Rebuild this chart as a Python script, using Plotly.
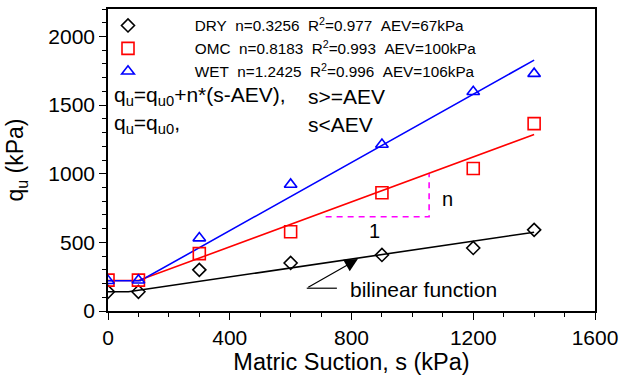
import plotly.graph_objects as go

# ---- data ----
suction = [0, 100, 300, 600, 900, 1200, 1400]
qu_dry = [140, 140, 300, 350, 408, 459, 591]
qu_omc = [225, 225, 418, 577, 861, 1038, 1365]
qu_wet = [220, 224, 531, 922, 1213, 1597, 1729]

series_names = ["DRY", "OMC", "WET"]
n_vals = [0.3256, 0.8183, 1.2425]
r2_vals = [0.977, 0.993, 0.996]
aev_vals = [67, 100, 106]
qu0_vals = [140, 222, 220]
s_end = 1400

x_ticks = [0, 400, 800, 1200, 1600]
y_ticks = [0, 500, 1000, 1500, 2000]

colors = ["black", "red", "blue"]
symbols = ["diamond-open", "square-open", "triangle-up-open"]
msizes = [10, 12, 11]
FONT = "Liberation Sans, Arial, sans-serif"

fig = go.Figure()
obs = [qu_dry, qu_omc, qu_wet]
nbsp = "\u00a0" * 11
for i, name in enumerate(series_names):
    # bilinear fitted function
    ls = [0, aev_vals[i], s_end]
    lq = [qu0_vals[i], qu0_vals[i], qu0_vals[i] + n_vals[i] * (s_end - aev_vals[i])]
    fig.add_trace(go.Scatter(x=ls, y=lq, mode="lines",
                             line=dict(color=colors[i], width=1.6),
                             showlegend=False, hoverinfo="skip"))
for i, name in enumerate(series_names):
    label = (f"{nbsp}{name}\u00a0\u00a0n={n_vals[i]:.4f}\u00a0\u00a0R<sup>2</sup>={r2_vals[i]:.3f}"
             f"\u00a0\u00a0AEV={aev_vals[i]}kPa")
    fig.add_trace(go.Scatter(x=suction, y=obs[i], mode="markers", name=label,
                             marker=dict(symbol=symbols[i], size=msizes[i],
                                         color=colors[i],
                                         line=dict(color=colors[i], width=1.6))))

# slope triangle (magenta dashed)
tri_x = [715, 1055, 1055]
tri_y = [687, 687, 998]
fig.add_trace(go.Scatter(x=tri_x, y=tri_y, mode="lines",
                         line=dict(color="#FF00FF", width=1.6, dash="6px,5px"),
                         showlegend=False, hoverinfo="skip"))

annotations = [
    dict(x=1117, y=818, text="n", showarrow=False, font=dict(size=20, color="black")),
    dict(x=877, y=584, text="1", showarrow=False, font=dict(size=20, color="black")),
    dict(x=790, y=155, text="bilinear function", showarrow=False, xanchor="left",
         font=dict(size=21, color="black")),
    # leader arrow
    dict(x=821, y=379, ax=653, ay=166, axref="x", ayref="y", xref="x", yref="y",
         text="", showarrow=True, arrowhead=2, arrowsize=2.2, arrowwidth=1.2,
         arrowcolor="black"),
    dict(x=12, y=1565, text="q<sub>u</sub>=q<sub>u0</sub>+n*(s-AEV),",
         showarrow=False, xanchor="left", font=dict(size=21, color="black")),
    dict(x=652, y=1565, text="s>=AEV", showarrow=False, xanchor="left",
         font=dict(size=21, color="black")),
    dict(x=12, y=1362, text="q<sub>u</sub>=q<sub>u0</sub>,", showarrow=False,
         xanchor="left", font=dict(size=21, color="black")),
    dict(x=652, y=1362, text="s<AEV", showarrow=False, xanchor="left",
         font=dict(size=21, color="black")),
]
shapes = [dict(type="line", x0=653, y0=166, x1=752, y1=166, xref="x", yref="y",
               line=dict(color="black", width=1.2))]

fig.update_layout(
    width=634, height=378,
    margin=dict(l=108, r=39, t=7, b=67),
    paper_bgcolor="white", plot_bgcolor="white",
    font=dict(family=FONT, color="black"),
    showlegend=True,
    legend=dict(x=0.0, y=1.0, xanchor="left", yanchor="top",
                bgcolor="rgba(0,0,0,0)", font=dict(size=15.3),
                tracegroupgap=0, itemwidth=30),
    annotations=annotations,
    shapes=shapes,
    xaxis=dict(range=[0, 1600], tickvals=x_ticks, ticktext=[str(v) for v in x_ticks],
               showgrid=False, zeroline=False, showline=True, linecolor="black",
               linewidth=1.6, mirror=True, ticks="outside", ticklen=7, tickwidth=1.4,
               tickcolor="black", tickfont=dict(size=21),
               minor=dict(dtick=100, ticks="outside", ticklen=4, tickwidth=1.2,
                          tickcolor="black", showgrid=False),
               title=dict(text="Matric Suction, s (kPa)", font=dict(size=23.5), standoff=2)),
    yaxis=dict(range=[0, 2200], tickvals=y_ticks, ticktext=[str(v) for v in y_ticks],
               showgrid=False, zeroline=False, showline=True, linecolor="black",
               linewidth=1.6, mirror=True, ticks="outside", ticklen=7, tickwidth=1.4,
               tickcolor="black", tickfont=dict(size=21),
               minor=dict(dtick=100, ticks="outside", ticklen=4, tickwidth=1.2,
                          tickcolor="black", showgrid=False),
               title=dict(text="q<sub>u</sub> (kPa)", font=dict(size=23), standoff=18)),
)

fig.write_html("out.html")
